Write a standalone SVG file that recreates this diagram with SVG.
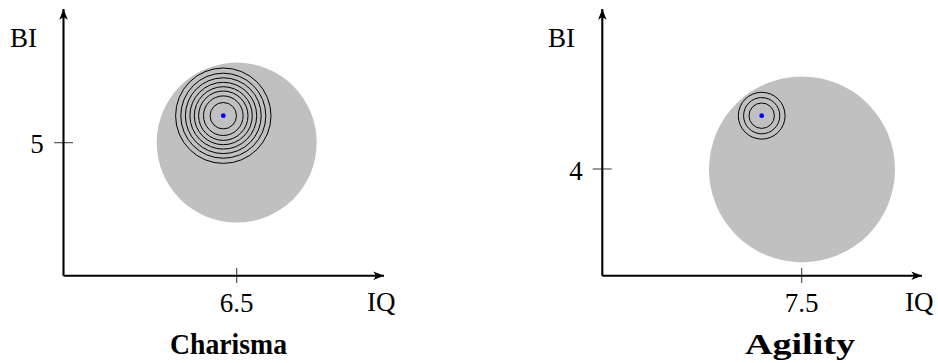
<svg xmlns="http://www.w3.org/2000/svg" width="938" height="363" viewBox="0 0 938 363">
<defs>
<marker id="arr" viewBox="0 0 10 8" refX="10" refY="4" markerWidth="11" markerHeight="8.5" markerUnits="userSpaceOnUse" orient="auto">
<path d="M0,0 L10,4 L0,8 L2.5,4 Z" fill="#000"/>
</marker>
</defs>
<style>
.axis{stroke:#000;stroke-width:2.1;fill:none}
.tick{stroke:#444;stroke-width:1.1}
.blob{fill:#c0c0c0}
.ring{fill:none;stroke:#000;stroke-width:1}
.dot{fill:#0000ff}
.lbl{font-family:"Liberation Serif",serif;font-size:27px;fill:#000}
.title{font-family:"Liberation Serif",serif;font-size:29px;font-weight:bold;fill:#000}
</style>
<rect width="938" height="363" fill="#fff"/>
<g id="left-plot">
<circle class="blob" cx="236.7" cy="142.6" r="80"/>
<g id="left-rings">
<circle class="ring" cx="223.3" cy="115.7" r="47.7"/>
<circle class="ring" cx="223.3" cy="115.7" r="42.5"/>
<circle class="ring" cx="223.3" cy="115.7" r="37.9"/>
<circle class="ring" cx="223.3" cy="115.7" r="33.4"/>
<circle class="ring" cx="223.3" cy="115.7" r="29"/>
<circle class="ring" cx="223.3" cy="115.7" r="24.7"/>
<circle class="ring" cx="223.3" cy="115.7" r="19.8"/>
<circle class="ring" cx="223.3" cy="115.7" r="13.2"/>
</g>
<circle class="dot" cx="223.3" cy="115.7" r="2.4"/>
<line class="tick" x1="54" y1="142.7" x2="73" y2="142.7"/>
<line class="tick" x1="236.7" y1="268" x2="236.7" y2="283"/>
<text class="lbl" x="10" y="47">BI</text>
<text class="lbl" x="37" y="153" text-anchor="middle">5</text>
<text class="lbl" x="236.7" y="312" text-anchor="middle">6.5</text>
<text class="lbl" x="367" y="311">IQ</text>
<text class="title" x="170" y="354" textLength="117" lengthAdjust="spacingAndGlyphs">Charisma</text>
</g>
<g id="right-plot">
<circle class="blob" cx="802" cy="169.4" r="93"/>
<g id="right-rings">
<circle class="ring" cx="761.7" cy="115.7" r="23.4"/>
<circle class="ring" cx="761.7" cy="115.7" r="18.1"/>
<circle class="ring" cx="761.7" cy="115.7" r="12.7"/>
</g>
<circle class="dot" cx="761.7" cy="115.7" r="2.4"/>
<line class="tick" x1="592.7" y1="169" x2="611.7" y2="169"/>
<line class="tick" x1="801.7" y1="268" x2="801.7" y2="283"/>
<text class="lbl" x="548" y="47">BI</text>
<text class="lbl" x="576" y="180" text-anchor="middle">4</text>
<text class="lbl" x="801.7" y="312" text-anchor="middle">7.5</text>
<text class="lbl" x="905" y="311">IQ</text>
<text class="title" x="745" y="354" textLength="110" lengthAdjust="spacingAndGlyphs">Agility</text>
</g>
<g id="connectors">
<path class="axis" d="M63.5,275.7 L63.5,9"  marker-end="url(#arr)"/>
<path class="axis" d="M63.5,275.7 L384,275.7" marker-end="url(#arr)"/>
<path class="axis" d="M602.3,275.7 L602.3,9" marker-end="url(#arr)"/>
<path class="axis" d="M602.3,275.7 L922,275.7" marker-end="url(#arr)"/>
</g>
</svg>
